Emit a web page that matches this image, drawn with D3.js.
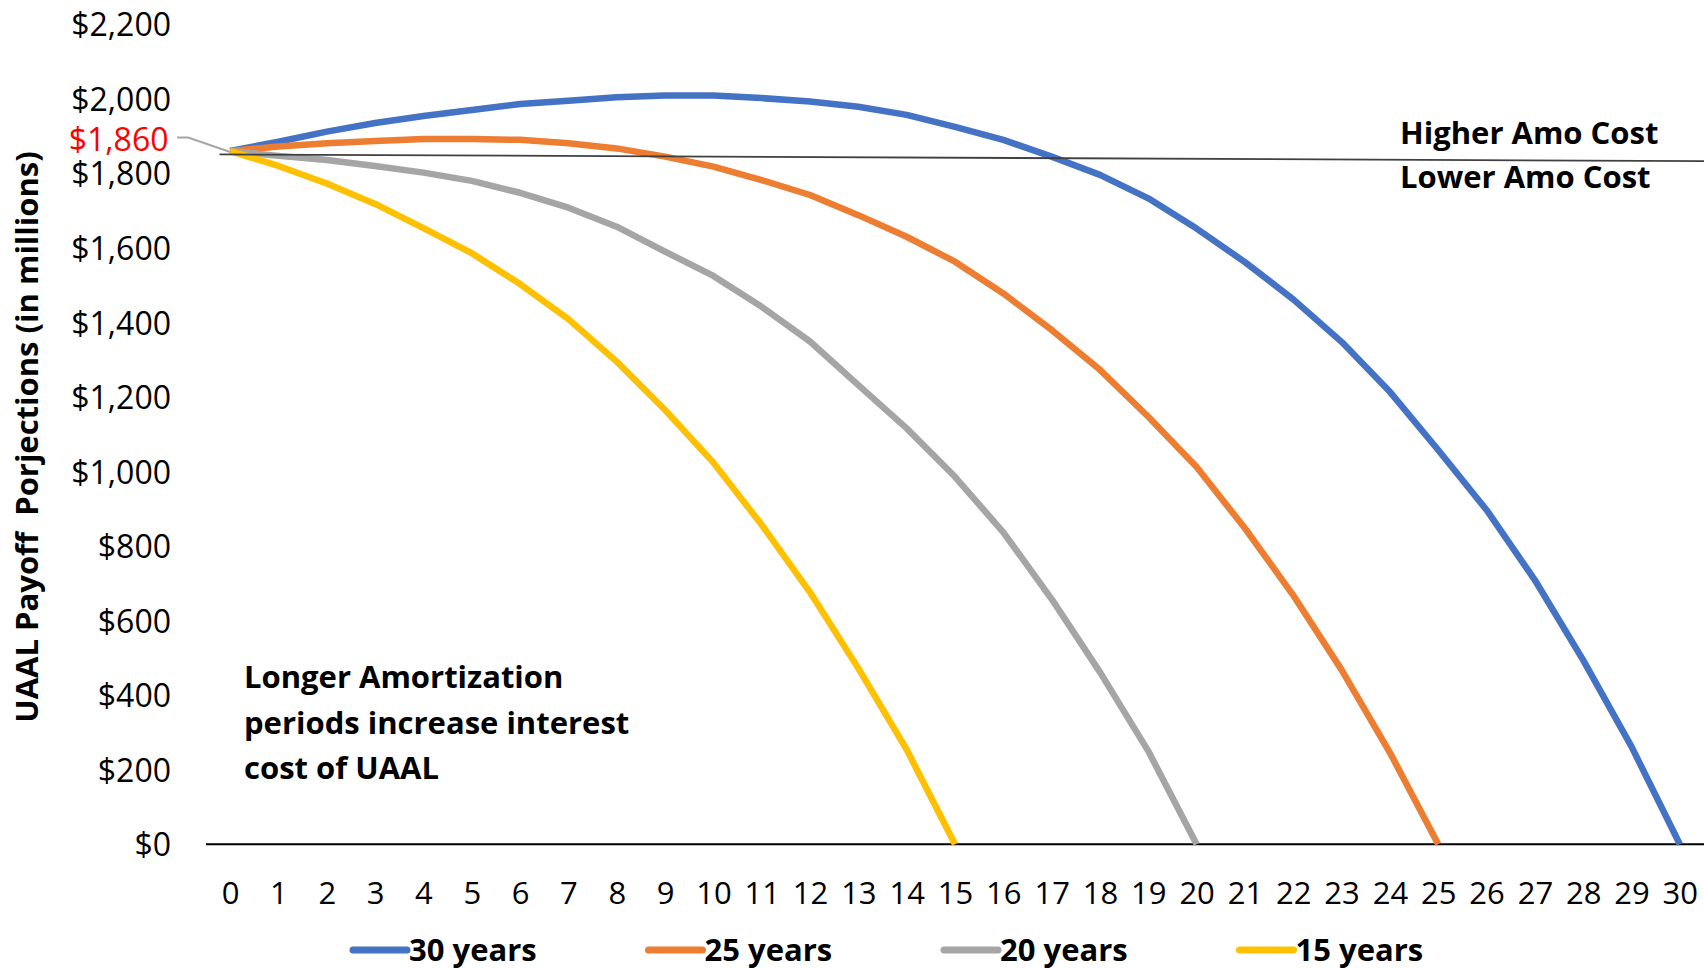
<!DOCTYPE html>
<html>
<head>
<meta charset="utf-8">
<script src="https://cdn.jsdelivr.net/npm/d3@7"></script>
<style>
  html, body { margin: 0; padding: 0; background: #ffffff; }
  svg { display: block; font-family: "Open Sans", "Liberation Sans", sans-serif; }
</style>
</head>
<body>
<svg id="chart" width="1704" height="969"></svg>
<script>
// Projection years (x categories)
const yearLabels = [0, 1, 2, 3, 4, 5, 6, 7, 8, 9, 10, 11, 12, 13, 14, 15,
                    16, 17, 18, 19, 20, 21, 22, 23, 24, 25, 26, 27, 28, 29, 30];

// Remaining UAAL balance ($ millions) by amortization period
const payoff30 = [1860, 1885, 1912, 1935, 1954, 1970, 1986, 1995, 2004, 2009, 2009,
                  2002, 1993, 1979, 1957, 1925, 1890, 1845, 1796, 1733, 1652,
                  1562, 1462, 1348, 1214, 1058, 897, 709, 494, 262, 0];
const payoff25 = [1860, 1872, 1881, 1887, 1892, 1892, 1890, 1881, 1867, 1845, 1818,
                  1782, 1742, 1688, 1630, 1563, 1478, 1380, 1273, 1147, 1012,
                  848, 668, 468, 246, 0];
const payoff20 = [1860, 1847, 1836, 1820, 1802, 1780, 1748, 1708, 1657, 1590, 1525,
                  1442, 1349, 1232, 1116, 986, 837, 658, 462, 250, 0];
const payoff15 = [1860, 1820, 1773, 1718, 1653, 1586, 1503, 1409, 1295, 1165, 1024,
                  857, 676, 472, 254, 0];

const seriesNames = ["30 years", "25 years", "20 years", "15 years"];
const seriesValues = [payoff30, payoff25, payoff20, payoff15];

// Value axis ticks
const yTicks = [0, 200, 400, 600, 800, 1000, 1200, 1400, 1600, 1800, 2000, 2200];

// Starting balance callout
const startValue = 1860;

// Divider between higher / lower amortization cost (year, $ millions)
const dividerLine = [[-0.22, 1851], [30.5, 1833]];

const costLabels = ["Higher Amo Cost", "Lower Amo Cost"];
const noteLines = ["Longer Amortization", "periods increase interest", "cost of UAAL"];

// ---- styling ----
const colors = ["#4472C4", "#ED7D31", "#A5A5A5", "#FFC000"];
const FONT = 31;

const svg = d3.select("#chart");

const x = d3.scaleLinear().domain([-0.5, 30.5]).range([206, 1704]);
const y = d3.scaleLinear().domain([0, 2200]).range([844.3, 24.3]);

// Value axis labels
const yAxis = svg.append("g")
  .attr("transform", `translate(171,0)`)
  .call(d3.axisLeft(y).tickValues(yTicks).tickSize(0).tickPadding(0)
        .tickFormat(d => "$" + d3.format(",")(d)));
yAxis.select(".domain").remove();
yAxis.selectAll("text")
  .attr("x", 0).attr("dy", "0.36em")
  .style("font-family", "'Open Sans', sans-serif")
  .style("font-size", "32px")
  .attr("fill", "#000");

// Category axis labels
const xAxis = svg.append("g")
  .attr("transform", `translate(0,${y(0)})`)
  .call(d3.axisBottom(x).tickValues(yearLabels).tickSize(0).tickFormat(d3.format("d")));
xAxis.select(".domain").remove();
xAxis.selectAll("text")
  .attr("y", 49).attr("dy", "0.36em")
  .style("font-family", "'Open Sans', sans-serif")
  .style("font-size", FONT + "px")
  .attr("fill", "#000");

// Zero baseline
svg.append("line")
  .attr("x1", x(-0.5)).attr("x2", x(30.5))
  .attr("y1", y(0)).attr("y2", y(0))
  .attr("stroke", "#000").attr("stroke-width", 2);

// Series lines
const line = d3.line().x((d, i) => x(yearLabels[i])).y(d => y(d));
svg.append("g").selectAll("path")
  .data(seriesValues)
  .join("path")
  .attr("d", d => line(d))
  .attr("fill", "none")
  .attr("stroke", (d, i) => colors[i])
  .attr("stroke-width", 6.5)
  .attr("stroke-linejoin", "round");

// Divider line
svg.append("line")
  .attr("x1", x(dividerLine[0][0])).attr("y1", y(dividerLine[0][1]))
  .attr("x2", x(dividerLine[1][0])).attr("y2", y(dividerLine[1][1]))
  .attr("stroke", "#404040").attr("stroke-width", 1.8);

// Starting balance callout
const sx = x(0), sy = y(startValue);
svg.append("path")
  .attr("d", `M${sx - 53},${sy - 13.5} L${sx - 42},${sy - 13.5} L${sx},${sy + 1}`)
  .attr("fill", "none").attr("stroke", "#A5A5A5").attr("stroke-width", 2);
svg.append("text")
  .attr("x", 168.5).attr("y", sy - 12).attr("dy", "0.36em")
  .attr("text-anchor", "end")
  .style("font-size", "32px")
  .attr("fill", "#FF0000")
  .text("$" + d3.format(",")(startValue));

// Axis title
svg.append("text")
  .attr("transform", "translate(27,437) rotate(-90)")
  .attr("text-anchor", "middle").attr("dy", "0.36em")
  .style("font-size", FONT + "px").style("font-weight", "bold")
  .style("white-space", "pre")
  .text("UAAL Payoff  Porjections (in millions)");

// Cost labels
svg.append("g").selectAll("text")
  .data(costLabels)
  .join("text")
  .attr("x", 1400).attr("y", (d, i) => 132.6 + i * 44.4).attr("dy", "0.36em")
  .style("font-size", FONT + "px").style("font-weight", "bold")
  .text(d => d);

// Note
svg.append("g").selectAll("text")
  .data(noteLines)
  .join("text")
  .attr("x", 244).attr("y", (d, i) => 677 + i * 45.6).attr("dy", "0.36em")
  .style("font-size", FONT + "px").style("font-weight", "bold")
  .text(d => d);

// Legend
const legend = svg.append("g").selectAll("g")
  .data(seriesNames)
  .join("g")
  .attr("transform", (d, i) => `translate(${353 + i * 295.5},950)`);
legend.append("line")
  .attr("x1", 0).attr("x2", 54)
  .attr("stroke", (d, i) => colors[i])
  .attr("stroke-width", 7).attr("stroke-linecap", "round");
legend.append("text")
  .attr("x", 56).attr("dy", "0.36em")
  .style("font-size", FONT + "px").style("font-weight", "bold")
  .text(d => d);
</script>
</body>
</html>
